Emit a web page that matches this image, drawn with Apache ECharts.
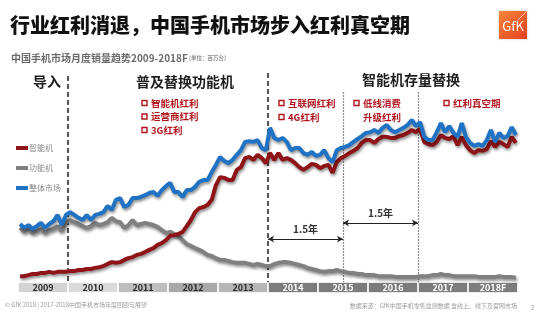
<!DOCTYPE html>
<html><head><meta charset="utf-8">
<script src="https://cdn.jsdelivr.net/npm/echarts@6/dist/echarts.min.js"></script>
<style>html,body{margin:0;padding:0;background:#fff}#c{width:554px;height:322px}</style>
</head><body><div id="c"></div>
<script>
// ---- data (millions of units / month), Jan 2009 .. Dec 2018 ----
const years = ['2009','2010','2011','2012','2013','2014','2015','2016','2017','2018F'];
const smartphone = [
 1.9,1.9,2.2,2.5,2.5,2.8,2.8,3.1,2.8,3.1,3.1,3.1,
 3.3,3.3,3.6,3.6,3.9,3.9,4.2,4.4,4.7,5.3,5.8,5.6,
 5.8,6.4,6.9,7.2,7.8,8.1,8.6,9.2,9.7,10.6,11.1,11.9,
 13.1,13.3,13.6,14.2,15.8,17.5,19.7,20.8,21.1,21.7,23.1,27.2,
 29.4,29.2,28.6,28.6,31.4,32.2,34.7,35.0,34.2,35.6,34.7,33.3,
 36.1,34.2,36.1,34.2,34.7,34.2,33.3,32.2,31.4,32.2,33.1,32.8,
 31.9,32.5,32.8,30.6,33.6,34.7,35.3,36.1,36.7,37.5,38.9,39.7,
 39.7,38.9,40.0,40.6,40.6,40.3,40.3,40.8,41.1,41.7,42.5,41.9,
 42.8,39.2,38.6,38.3,39.2,41.1,40.3,40.0,40.8,38.3,40.6,38.3,
 36.9,36.1,36.9,36.7,37.2,39.4,37.8,39.2,38.6,37.8,40.6,38.9
];
const featurePhone = [
 15.3,14.2,15.0,13.9,14.4,15.0,13.9,14.7,15.0,15.8,14.4,16.9,
 17.5,16.9,16.4,15.8,15.3,15.8,16.7,16.1,16.4,16.9,18.1,17.2,
 16.9,15.3,16.1,17.5,16.1,16.4,16.7,16.4,16.1,15.6,14.7,13.9,
 14.2,13.6,13.1,11.9,10.8,10.3,9.7,9.2,8.6,7.8,7.5,6.9,
 6.4,6.4,6.1,5.8,5.6,5.6,5.6,5.3,5.0,5.3,5.0,4.7,
 4.7,5.3,5.6,5.8,5.8,5.6,5.3,5.0,4.7,4.2,3.9,3.6,
 3.3,3.1,3.3,3.3,3.6,3.3,3.1,2.8,2.8,2.5,2.5,2.2,
 2.2,2.2,1.9,1.9,1.9,1.9,1.7,1.7,1.7,1.7,1.7,1.7,
 1.9,1.9,1.9,2.2,2.2,2.5,2.2,2.2,1.9,1.9,1.9,1.9,
 1.9,1.9,1.7,1.7,1.7,1.7,1.7,1.9,1.7,1.7,1.7,1.4
];
const totalMarket = [
 16.4,15.3,16.1,15.0,15.8,16.7,15.3,16.4,17.2,18.9,16.1,18.9,
 19.7,18.9,18.1,17.5,18.9,17.5,18.9,19.2,19.7,21.4,20.3,23.1,
 23.6,21.1,21.7,23.6,23.6,23.9,24.4,25.0,25.3,24.2,25.8,26.9,
 27.8,25.3,25.3,23.9,25.8,25.8,26.7,28.1,28.6,28.6,30.8,32.8,
 35.0,33.9,33.3,34.2,35.6,36.9,39.2,39.4,39.2,39.7,37.5,36.9,
 43.1,40.3,39.7,40.3,39.2,36.9,37.5,37.5,36.1,35.6,36.4,35.3,
 35.6,36.9,34.7,33.6,36.9,37.5,37.8,38.3,39.2,40.0,40.8,41.7,
 41.9,42.5,41.7,43.1,43.9,42.5,41.9,42.5,43.1,43.9,45.3,43.6,
 44.7,40.6,39.7,39.7,41.9,44.4,41.9,43.6,41.7,40.6,44.4,40.6,
 38.9,38.1,38.6,38.1,39.7,42.5,39.2,41.7,40.3,40.8,43.3,41.1
];
const seriesNames = ['智能机','功能机','整体市场'];
// phase dividers (month index) and the two "1.5年" spans
const dividerMonths = [12, 60, 78, 96];
const spanMonths = [[60, 78], [78, 96]];
const spanLabel = '1.5年';
const phaseTitles = ['导入','普及替换功能机','智能机存量替换'];
const bulletGroups = [
  ['智能机红利','运营商红利','3G红利'],
  ['互联网红利','4G红利'],
  ['低线消费'],
  ['红利真空期']
];

const toXY = arr => arr.map((v, i) => [i + 0.5, v]);
const FONT = '"Noto Sans CJK SC", "Noto Sans", sans-serif';
const RED = '#8e1418', GRAY = '#808080', BLUE = '#1f72c4', BUL = '#b0141d';
const bandLight = ['#d3d3d3','#dadada','#bdbdbd','#a9a9a9','#b6b6b6'];

const shadow = {shadowColor:'rgba(0,0,0,0.45)', shadowBlur:3, shadowOffsetX:1, shadowOffsetY:2};

// bullet graphics (box + text)
const bulletPos = [[142, 103, 13.5], [279, 103, 14], [354, 103, 14], [444, 103, 14]];
const graphics = [];
bulletGroups.forEach((g, gi) => {
  const [bx, by, dy] = bulletPos[gi];
  g.forEach((t, ti) => {
    const y = by + ti * dy;
    graphics.push({type:'rect', shape:{x:bx, y:y - 2.5, width:5, height:5},
      style:{fill:'none', stroke:BUL, lineWidth:1.4}});
    graphics.push({type:'text', x:bx + 9, y:y, style:{text:t, font:'bold 9.5px '+FONT, fill:BUL, textVerticalAlign:'middle'}});
  });
});
graphics.push({type:'text', x:363, y:117, style:{text:'升级红利', font:'bold 9.5px '+FONT, fill:BUL, textVerticalAlign:'middle'}});
[[47, 82], [185, 82], [411, 80]].forEach((p, i) => {
  graphics.push({type:'text', x:p[0], y:p[1], style:{text:phaseTitles[i], font:'bold 14px '+FONT, fill:'#1e1e1e', textAlign:'center', textVerticalAlign:'middle'}});
});
graphics.push(
  {type:'text', x:5, y:305, style:{text:'© GfK 2018 | 2017-2018中国手机市场年度回顾与展望', font:'6px '+FONT, fill:'#9a9a9a', textVerticalAlign:'middle'}},
  {type:'text', x:517, y:306, style:{text:'数据来源：GfK中国手机零售监测数据 含线上、线下及官网市场', font:'6px '+FONT, fill:'#9a9a9a', textAlign:'right', textVerticalAlign:'middle'}},
  {type:'text', x:531, y:308, style:{text:'2', font:'6px '+FONT, fill:'#9a9a9a', textVerticalAlign:'middle'}},
  {type:'group', x:499, y:11, children:[
    {type:'rect', shape:{x:0,y:0,width:28,height:28},
     style:{fill:{type:'linear',x:0,y:0,x2:1,y2:1,colorStops:[{offset:0,color:'#f7853a'},{offset:1,color:'#e2401e'}]},
            shadowColor:'rgba(0,0,0,0.25)', shadowBlur:2}},
    {type:'line', shape:{x1:19,y1:9,x2:28,y2:0}, style:{stroke:'rgba(255,255,255,0.8)', lineWidth:0.8}},
    {type:'text', x:14, y:15, style:{text:'GfK', font:'13px '+FONT, fill:'#fff', textAlign:'center', textVerticalAlign:'middle'}}
  ]}
);

const chart = echarts.init(document.getElementById('c'), null, {renderer:'canvas'});
const option = {
  animation:false,
  textStyle:{fontFamily:FONT},
  title:[
    {text:'行业红利消退，中国手机市场步入红利真空期', left:5, top:10,
     textStyle:{fontSize:20, fontWeight:900, color:'#111', fontFamily:FONT}},
    {text:'{a|中国手机市场月度销量趋势2009-2018F}{b| (单位：百万台)}', left:6, top:48,
     textStyle:{rich:{a:{fontSize:10, fontWeight:'bold', color:'#6b6b6b', fontFamily:FONT},
                      b:{fontSize:5.5, color:'#8a8a8a', fontFamily:FONT}}}}
  ],
  legend:{
    data:seriesNames, orient:'vertical', left:16, top:143, itemWidth:12, itemHeight:4,
    itemGap:10, icon:'rect', padding:0,
    textStyle:{fontSize:8, color:'#8a8a8a', lineHeight:10, height:10, padding:[0,0,0,-4]}
  },
  grid:[
    {left:18, right:36, top:67, bottom:39},
    {left:18, right:36, top:282, height:11}
  ],
  xAxis:[
    {type:'value', min:0, max:120, show:false, gridIndex:0},
    {type:'category', data:years, show:false, gridIndex:1}
  ],
  yAxis:[
    {type:'value', min:0, max:60, show:false, gridIndex:0},
    {type:'value', min:0, max:1, show:false, gridIndex:1}
  ],
  series:[
    {name:'智能机', type:'line', data:toXY(smartphone), symbol:'none', z:3,
     lineStyle:Object.assign({color:RED, width:4}, shadow), itemStyle:{color:RED},
     markLine:{silent:true, symbol:['arrow','arrow'], symbolSize:[5,6], z:5,
       lineStyle:{color:'#222', width:1, type:'solid'},
       label:{show:true, position:'middle', formatter:spanLabel, fontSize:10, fontWeight:'bold',
              color:'#333', backgroundColor:'#fff', padding:[0,2], fontFamily:FONT},
       data:[
         [{coord:[spanMonths[0][0], 12.2]},{coord:[spanMonths[0][1], 12.2]}],
         [{coord:[spanMonths[1][0], 16.7]},{coord:[spanMonths[1][1], 16.7]}]
       ]}
    },
    {name:'功能机', type:'line', data:toXY(featurePhone), symbol:'none', z:2,
     lineStyle:Object.assign({color:GRAY, width:4}, shadow), itemStyle:{color:GRAY},
     markLine:{silent:true, symbol:['none','none'], label:{show:false}, z:1,
       data:[
         [{coord:[dividerMonths[0], 57.5], lineStyle:{type:[5,3], width:2, color:'#555'}},{coord:[dividerMonths[0], 0]}],
         [{coord:[dividerMonths[1], 58.3], lineStyle:{type:[5,3], width:2, color:'#555'}},{coord:[dividerMonths[1], 0]}],
         [{coord:[dividerMonths[2], 53], lineStyle:{type:[1.5,1.5], width:1.2, color:'#666'}},{coord:[dividerMonths[2], 0]}],
         [{coord:[dividerMonths[3], 53], lineStyle:{type:[1.5,1.5], width:1.2, color:'#666'}},{coord:[dividerMonths[3], 0]}]
       ]}
    },
    {name:'整体市场', type:'line', data:toXY(totalMarket), symbol:'none', z:4,
     lineStyle:Object.assign({color:BLUE, width:4}, shadow), itemStyle:{color:BLUE}},
    {type:'bar', xAxisIndex:1, yAxisIndex:1,
     data:years.map((y, i) => ({value:1, label:{color: i < 5 ? '#2a2a2a' : '#fff'}})),
     barCategoryGap:'0%', silent:true, legendHoverLink:false,
     itemStyle:{borderColor:'#fff', borderWidth:0.8,
       color:p => p.dataIndex < 5 ? bandLight[p.dataIndex] : '#7c7c7c'},
     label:{show:true, position:'inside', fontSize:9, fontWeight:'bold', fontFamily:FONT,
       formatter:p => years[p.dataIndex]}
    }
  ],
  graphic:graphics
};
chart.setOption(option);
</script>
</body></html>
